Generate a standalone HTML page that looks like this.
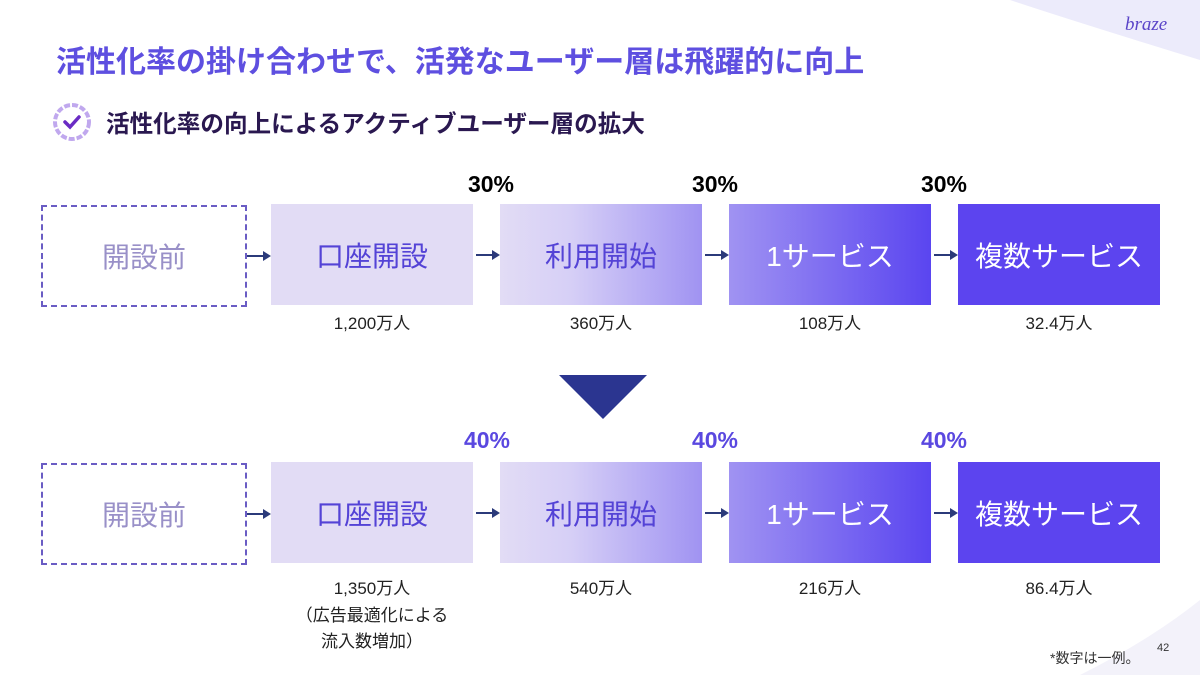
<!DOCTYPE html>
<html><head><meta charset="utf-8"><style>
body{margin:0;width:1200px;height:675px;position:relative;overflow:hidden;background:#fff;font-family:"Liberation Sans","Noto Sans CJK JP",sans-serif}
.a{position:absolute}
.box{position:absolute;width:202px;height:101px;display:flex;align-items:center;justify-content:center;font-size:28px;color:#5443d6}
.w{color:#fff}
.dash{position:absolute;left:41px;width:202px;height:98px;border:2px dashed #6a5cc4;display:flex;align-items:center;justify-content:center;font-size:28px;color:#9990c8}
.pct{position:absolute;font-size:23px;font-weight:bold;width:80px;text-align:center}
.lbl{position:absolute;width:202px;text-align:center;font-size:17px;color:#222;line-height:26.5px}
.arr{position:absolute;height:2px;background:#2b3a7a;width:18px}
.arr:after{content:"";position:absolute;right:-6px;top:-4px;border-left:8px solid #2b3a7a;border-top:5px solid transparent;border-bottom:5px solid transparent}
</style></head><body>
<svg class="a" style="left:0;top:0" width="1200" height="675"><path d="M1010 0 Q1070 20 1200 60 L1200 0Z" fill="#ecebfb"/><path d="M1200 600 Q1150 640 1080 675 L1200 675Z" fill="#f3f2fa"/></svg>
<div class="a" style="left:1125px;top:14px;font-size:19px;font-style:italic;color:#5a44c8;font-family:'Liberation Serif',serif">braze</div>
<div class="a" style="left:56px;top:37px;font-size:30px;font-weight:bold;color:#5e4fe0">活性化率の掛け合わせで、活発なユーザー層は飛躍的に向上</div>
<svg class="a" style="left:50px;top:100px" width="44" height="44"><circle cx="22" cy="22" r="17" fill="#fff" stroke="#c0a8ee" stroke-width="4" stroke-dasharray="6 2"/><path d="M15 22 L20 27 L29 17" stroke="#6a2bc4" stroke-width="3.5" fill="none" stroke-linecap="round"/></svg>
<div class="a" style="left:106px;top:105px;font-size:23.6px;font-weight:bold;color:#2a1850">活性化率の向上によるアクティブユーザー層の拡大</div>

<div class="pct" style="left:451px;top:171px">30%</div>
<div class="pct" style="left:675px;top:171px">30%</div>
<div class="pct" style="left:904px;top:171px">30%</div>
<div class="dash" style="top:205px">開設前</div>
<div class="arr" style="left:247px;top:255px"></div>
<div class="box" style="left:271px;top:204px;background:#e2dcf5">口座開設</div>
<div class="arr" style="left:476px;top:254px"></div>
<div class="box" style="left:500px;top:204px;background:linear-gradient(90deg,#e2dcf5 0%,#d6cff6 35%,#a093f2 100%)">利用開始</div>
<div class="arr" style="left:705px;top:254px"></div>
<div class="box w" style="left:729px;top:204px;background:linear-gradient(90deg,#a093f2,#5a45f0)">1サービス</div>
<div class="arr" style="left:934px;top:254px"></div>
<div class="box w" style="left:958px;top:204px;background:#5c44ef">複数サービス</div>
<div class="lbl" style="left:271px;top:311px">1,200万人</div>
<div class="lbl" style="left:500px;top:311px">360万人</div>
<div class="lbl" style="left:729px;top:311px">108万人</div>
<div class="lbl" style="left:958px;top:311px">32.4万人</div>

<svg class="a" style="left:559px;top:375px" width="88" height="44"><path d="M0 0 L88 0 L44 44Z" fill="#2b3590"/></svg>

<div class="pct" style="left:447px;top:427px;color:#5a48e0">40%</div>
<div class="pct" style="left:675px;top:427px;color:#5a48e0">40%</div>
<div class="pct" style="left:904px;top:427px;color:#5a48e0">40%</div>
<div class="dash" style="top:463px">開設前</div>
<div class="arr" style="left:247px;top:513px"></div>
<div class="box" style="left:271px;top:462px;background:#e2dcf5">口座開設</div>
<div class="arr" style="left:476px;top:512px"></div>
<div class="box" style="left:500px;top:462px;background:linear-gradient(90deg,#e2dcf5 0%,#d6cff6 35%,#a093f2 100%)">利用開始</div>
<div class="arr" style="left:705px;top:512px"></div>
<div class="box w" style="left:729px;top:462px;background:linear-gradient(90deg,#a093f2,#5a45f0)">1サービス</div>
<div class="arr" style="left:934px;top:512px"></div>
<div class="box w" style="left:958px;top:462px;background:#5c44ef">複数サービス</div>
<div class="lbl" style="left:271px;top:576px">1,350万人<br>（広告最適化による<br>流入数増加）</div>
<div class="lbl" style="left:500px;top:576px">540万人</div>
<div class="lbl" style="left:729px;top:576px">216万人</div>
<div class="lbl" style="left:958px;top:576px">86.4万人</div>
<div class="a" style="left:1050px;top:648px;font-size:14px;color:#333">*数字は一例。</div>
<div class="a" style="left:1157px;top:642px;font-size:11px;color:#333">42</div>
</body></html>
